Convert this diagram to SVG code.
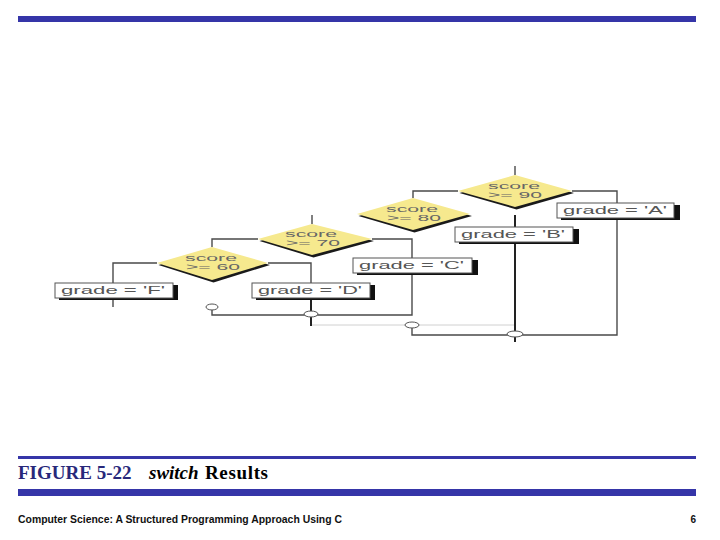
<svg xmlns="http://www.w3.org/2000/svg" width="720" height="540" viewBox="0 0 720 540">
<style>
.bar{fill:#3535a8}
.ln{fill:none;stroke:#4a4a4a;stroke-width:1.4}
.lnk{fill:none;stroke:#222;stroke-width:2}
.faint{fill:none;stroke:#d0d0d0;stroke-width:1}
.dia{fill:#f6e98e}
.dsh{fill:#1a1a1a}
.box{fill:#fff;stroke:#555;stroke-width:1}
.bsh{fill:#111}
.bt{font-family:"Liberation Sans",Arial,sans-serif;font-size:11px;fill:#555}
.dt{font-family:"Liberation Sans",Arial,sans-serif;font-size:8.5px;fill:#666;text-anchor:middle}
.junc{fill:#fff;stroke:#555;stroke-width:1}
.cap{font-family:"Liberation Serif","Times New Roman",serif;font-size:19px;font-weight:bold}
.foot{font-family:"Liberation Sans",Arial,sans-serif;font-size:10px;font-weight:bold;fill:#111}
</style>
<rect class="bar" x="18" y="16" width="678" height="6"/>
<rect class="bar" x="18" y="456" width="678" height="3"/>
<rect class="bar" x="18" y="489" width="678" height="7"/>

<g id="connectors">
<path class="faint" d="M311,325 H515"/>
<path class="ln" d="M515,166 V175"/>
<path class="ln" d="M458,191 H413 V198"/>
<path class="ln" d="M572,191 H617 V335 H412 V325"/>
<path class="lnk" d="M515,215 V342"/>
<path class="ln" d="M312,215 V224"/>
<path class="ln" d="M372,239 H412 V315 H212 V307"/>
<path class="ln" d="M258,239 H212 V247"/>
<path class="ln" d="M157,263 H113 V283"/>
<path class="ln" d="M113,299 V307"/>
<path class="ln" d="M268,263 H311 V283"/>
<path class="lnk" d="M311,299 V326"/>
</g>

<g id="d90">
<polygon class="dsh" points="516.5,177 574,193 516.5,209.5 459.5,193"/>
<polygon class="dia" points="515,175 572,191 515,207 458,191"/>
<text class="dt" x="514" y="189" textLength="52" lengthAdjust="spacingAndGlyphs">score</text>
<text class="dt" x="515" y="197.5" textLength="54" lengthAdjust="spacingAndGlyphs">&gt;= 90</text>
</g>
<g id="d80">
<polygon class="dsh" points="414.5,200 472,216 414.5,232.5 358.5,216"/>
<polygon class="dia" points="413,198 470,214 413,230 357,214"/>
<text class="dt" x="412" y="212" textLength="52" lengthAdjust="spacingAndGlyphs">score</text>
<text class="dt" x="414" y="220.5" textLength="54" lengthAdjust="spacingAndGlyphs">&gt;= 80</text>
</g>
<g id="d70">
<polygon class="dsh" points="313.5,226 374,241 313.5,257.5 259.5,241"/>
<polygon class="dia" points="312,224 372,239 312,255 258,239"/>
<text class="dt" x="311" y="237" textLength="52" lengthAdjust="spacingAndGlyphs">score</text>
<text class="dt" x="313" y="245.5" textLength="54" lengthAdjust="spacingAndGlyphs">&gt;= 70</text>
</g>
<g id="d60">
<polygon class="dsh" points="213.5,249 270,265 213.5,282.5 158.5,265"/>
<polygon class="dia" points="212,247 268,263 212,280 157,263"/>
<text class="dt" x="211" y="261" textLength="52" lengthAdjust="spacingAndGlyphs">score</text>
<text class="dt" x="213" y="269.5" textLength="54" lengthAdjust="spacingAndGlyphs">&gt;= 60</text>
</g>

<g id="boxA">
<rect class="bsh" x="561" y="205" width="119" height="15"/>
<rect class="box" x="557" y="203" width="117" height="15"/>
<text class="bt" x="563" y="214" textLength="104" lengthAdjust="spacingAndGlyphs">grade = 'A'</text>
</g>
<g id="boxB">
<rect class="bsh" x="459" y="229" width="120" height="15"/>
<rect class="box" x="455" y="227" width="118" height="15"/>
<text class="bt" x="461" y="238" textLength="104" lengthAdjust="spacingAndGlyphs">grade = 'B'</text>
</g>
<g id="boxC">
<rect class="bsh" x="357" y="260" width="121" height="15"/>
<rect class="box" x="353" y="258" width="119" height="15"/>
<text class="bt" x="359" y="269" textLength="105" lengthAdjust="spacingAndGlyphs">grade = 'C'</text>
</g>
<g id="boxD">
<rect class="bsh" x="256" y="285" width="119" height="15"/>
<rect class="box" x="252" y="283" width="118" height="15"/>
<text class="bt" x="258" y="294" textLength="104" lengthAdjust="spacingAndGlyphs">grade = 'D'</text>
</g>
<g id="boxF">
<rect class="bsh" x="59" y="285" width="119" height="15"/>
<rect class="box" x="55" y="283" width="118" height="15"/>
<text class="bt" x="61" y="294" textLength="104" lengthAdjust="spacingAndGlyphs">grade = 'F'</text>
</g>

<g id="junctions">
<ellipse class="junc" cx="212" cy="307" rx="6" ry="3"/>
<ellipse class="junc" cx="311" cy="314" rx="7" ry="3"/>
<ellipse class="junc" cx="412" cy="325" rx="7" ry="3"/>
<ellipse class="junc" cx="515" cy="334" rx="8" ry="3"/>
</g>

<text class="cap" x="18" y="479" fill="#28287a">FIGURE 5-22</text>
<text class="cap" x="149" y="479" fill="#000" font-style="italic">switch</text>
<text class="cap" x="205" y="479" fill="#000" textLength="63">Results</text>
<text class="foot" x="18" y="523" textLength="324" lengthAdjust="spacingAndGlyphs">Computer Science: A Structured Programming Approach Using C</text>
<text class="foot" x="696" y="523" text-anchor="end">6</text>
</svg>
